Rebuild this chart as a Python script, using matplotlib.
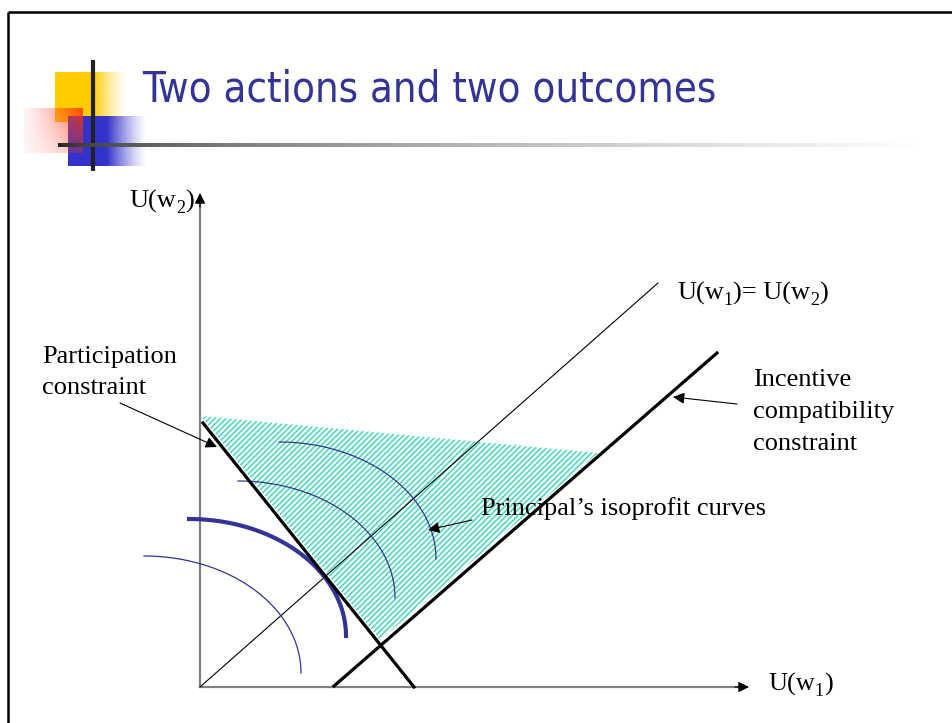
import numpy as np
import matplotlib
matplotlib.use("Agg")
import matplotlib.pyplot as plt
from matplotlib.patches import Polygon

plt.rcParams['hatch.linewidth'] = 1.1

# diagram geometry, in slide pixels (y grows downward)
origin = (200, 687)
x_axis_tip = 749
y_axis_tip = 193
diag_x = [200, 658]
diag_y = [687, 283]
pc_x = [203, 414]
pc_y = [423, 687]
ic_x = [334, 717]
ic_y = [686, 353]
region_x = [201, 598, 380]
region_y = [416, 453, 640]
arc_cx = [144, 189, 238, 279]
arc_cy = [673, 636, 598, 559]
arc_lw = [0.9, 3.0, 0.9, 0.9]
arc_rx = 157
arc_ry = 117

serif = 'Liberation Serif'
navy = '#333399'
fs = 19

fig = plt.figure(figsize=(9.52, 7.23), dpi=100)
ax = fig.add_axes([0, 0, 1, 1])
ax.set_xlim(0, 952)
ax.set_ylim(723, 0)
ax.axis('off')
rend = fig.canvas.get_renderer()

# slide frame (top and left only)
ax.plot([8, 952], [12, 12], color='black', lw=1.8, solid_capstyle='butt')
ax.plot([8, 8], [12, 723], color='black', lw=1.8, solid_capstyle='butt')

# ---- logo ----
def grad_box(x0, x1, y0, y1, rgb, solid_to, z):
    w = 200
    u = np.linspace(0, 1, w)
    s = (solid_to - x0) / (x1 - x0)
    a = np.clip((1 - u) / (1 - s), 0, 1) ** 1.3
    img = np.zeros((2, w, 4))
    img[..., :3] = rgb
    img[..., 3] = a
    ax.imshow(img, extent=[x0, x1, y1, y0], aspect='auto', zorder=z, interpolation='bilinear')

grad_box(55, 127, 72, 122, (1.0, 0.8, 0.0), 93, 1)
grad_box(68, 147, 116, 166, (0.2, 0.2, 0.8), 107, 2)

# red square fading towards bottom-left
n = 120
uu, vv = np.meshgrid(np.linspace(0, 1, n), np.linspace(0, 1, n))
red = np.zeros((n, n, 4))
red[..., 0] = 1.0
red[..., 1] = 0.4 - 0.2 * uu
red[..., 2] = 0.45 - 0.45 * uu
red[..., 3] = np.clip(0.08 + 0.8 * uu ** 1.3 * (1 - 0.7 * vv), 0, 1)
ax.imshow(red, extent=[24, 83, 153, 108], aspect='auto', zorder=3, interpolation='bilinear')

ax.plot([93, 93], [60, 171], color='#222222', lw=3, zorder=4, solid_capstyle='butt')
m = 400
t = np.linspace(0, 1, m)
g = 0.13 + 0.87 * t ** 0.55
bar = np.zeros((2, m, 3))
bar[..., 0] = g
bar[..., 1] = g
bar[..., 2] = g
ax.imshow(bar, extent=[58, 920, 147, 143], aspect='auto', zorder=4, interpolation='bilinear')

ax.text(142, 102, 'Two actions and two outcomes', color=navy, fontsize=30,
        family='DejaVu Sans', fontstretch='condensed', va='baseline', ha='left')

# ---- diagram ----
reg = Polygon(list(zip(region_x, region_y)), closed=True, fill=False,
              hatch='//////', edgecolor='#40D8B8', linewidth=0, zorder=2)
ax.add_patch(reg)

# axes
ax.plot([origin[0], origin[0]], [origin[1], y_axis_tip + 8], color='#808080', lw=1.6, zorder=3)
ax.plot([origin[0], x_axis_tip - 8], [origin[1], origin[1]], color='#808080', lw=1.6, zorder=3)
head = dict(arrowstyle='-|>', color='black', lw=0.8, mutation_scale=16, shrinkA=0, shrinkB=0)
ax.annotate('', xy=(origin[0], y_axis_tip), xytext=(origin[0], y_axis_tip + 14), arrowprops=head, zorder=4)
ax.annotate('', xy=(x_axis_tip, origin[1]), xytext=(x_axis_tip - 14, origin[1]), arrowprops=head, zorder=4)

ax.plot(diag_x, diag_y, color='black', lw=0.8, zorder=3)
ax.plot(pc_x, pc_y, color='black', lw=2.3, zorder=4)
ax.plot(ic_x, ic_y, color='black', lw=2.3, zorder=4)

th = np.linspace(0, np.pi / 2, 100)
for cx, cy, lw in zip(arc_cx, arc_cy, arc_lw):
    ax.plot(cx + arc_rx * np.cos(th), cy - arc_ry * np.sin(th), color=navy, lw=lw, zorder=3)

# labels with real subscripts (pieces laid out one after another)
def label(x, y, parts, ha='left'):
    pieces = []
    cx = x
    for s, sub in parts:
        tt = ax.text(cx, y + (5 if sub else 0), s, family=serif,
                     fontsize=13 if sub else fs, ha='left', va='baseline')
        cx += tt.get_window_extent(rend).width
        pieces.append(tt)
    if ha == 'right':
        for tt in pieces:
            tt.set_x(tt.get_position()[0] - (cx - x))

label(194, 208, [('U(w', 0), ('2', 1), (')', 0)], ha='right')
label(768, 691, [('U(w', 0), ('1', 1), (')', 0)])
label(677, 300, [('U(w', 0), ('1', 1), (')= U(w', 0), ('2', 1), (')', 0)])

for txt, yb in zip(['Incentive', 'compatibility', 'constraint'], [386, 418, 450]):
    ax.text(753, yb, txt, family=serif, fontsize=fs, ha='left', va='baseline')
for txt, yb in zip(['Participation', 'constraint'], [363, 394]):
    ax.text(42, yb, txt, family=serif, fontsize=fs, ha='left', va='baseline')
ax.text(481, 515, 'Principal\u2019s isoprofit curves', family=serif, fontsize=fs,
        ha='left', va='baseline', zorder=5)

ptr = dict(arrowstyle='-|>', color='black', lw=0.8, mutation_scale=17, shrinkA=0, shrinkB=0)
ax.annotate('', xy=(217, 447), xytext=(120, 403), arrowprops=ptr, zorder=5)
ax.annotate('', xy=(673, 397), xytext=(737, 404), arrowprops=ptr, zorder=5)
ax.annotate('', xy=(428, 530), xytext=(472, 520), arrowprops=ptr, zorder=5)

fig.savefig('out.png', dpi=100)
